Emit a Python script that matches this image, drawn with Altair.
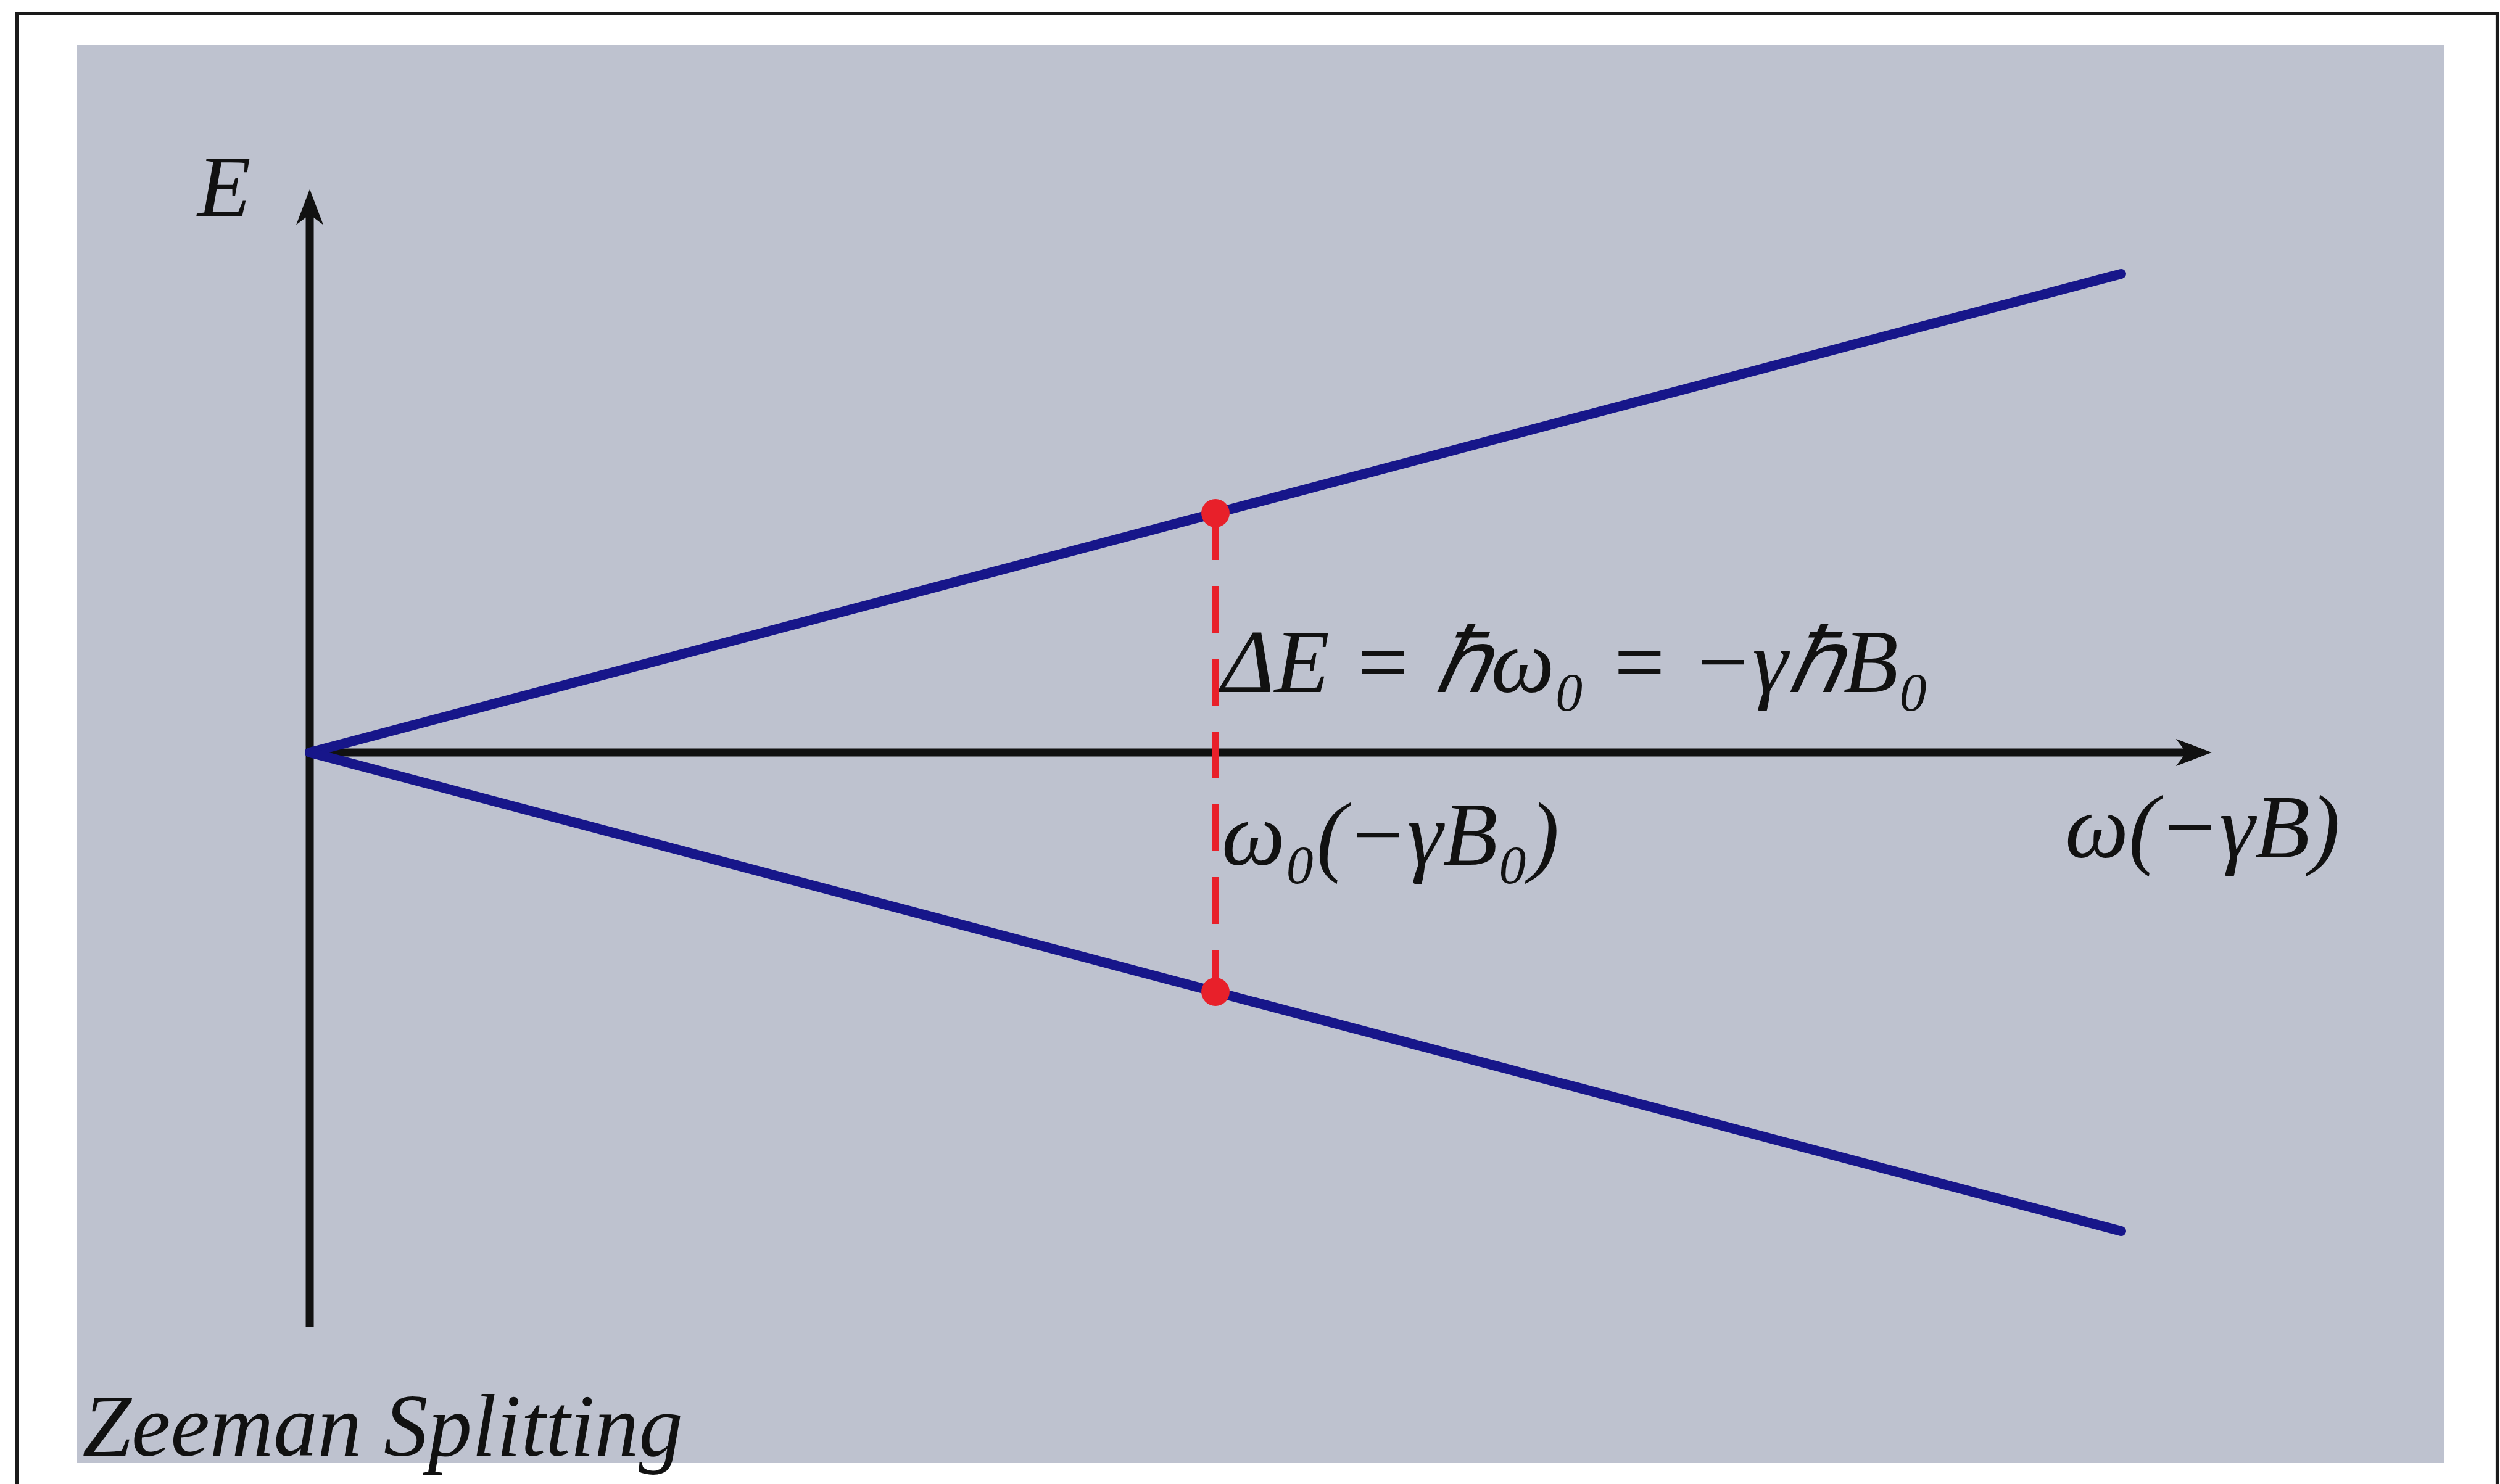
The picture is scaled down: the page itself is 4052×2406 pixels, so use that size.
import altair as alt
import pandas as pd

# Zeeman splitting of a spin-1/2 level: E = ±ħω/2 with ω = −γB
# (ω in units of ω0, E in units of ħω0)
LEVEL_OMEGA = [0.0, 2.0]
LEVEL_UPPER = [0.0, 1.0]
LEVEL_LOWER = [0.0, -1.0]

# Resonance at ω0: the two levels are ΔE = ħω0 apart
RES_OMEGA = [1.0, 1.0]
RES_ENERGY = [0.5, -0.5]

# Axis arrows: line extents and arrow tips
X_AXIS_LINE = [0.0, 2.075]
Y_AXIS_LINE = [-1.20, 1.145]
ARROW_X = [2.10, 0.0]
ARROW_Y = [0.0, 1.177]
ARROW_ANGLE = [90, 0]

# Backing panel and page frame (same data units as the plot)
PANEL_X = [-0.257, 2.357]
PANEL_Y = [1.478, -1.4845]
FRAME_X = [-0.323, 2.4155]
FRAME_Y = [1.5438, -1.70]

SERIF = "'Liberation Serif', serif"

# Annotations: text, ω, E, size, x-offset
LABELS = [
    ("E", -0.124, 1.121, 142, 0),
    ("ΔE = ℏω₀ = −γℏB₀", 1.0, 0.126, 146, 10),
    ("ω₀(−γB₀)", 1.0, -0.235, 146, 10),
    ("ω(−γB)", 1.938, -0.219, 146, 0),
    ("Zeeman Splitting", -0.251, -1.469, 143, 0),
]

X_DOMAIN = [-0.342, 2.4183]
Y_DOMAIN = [-1.5284, 1.5722]

xs = alt.Scale(domain=X_DOMAIN, nice=False, zero=False)
ys = alt.Scale(domain=Y_DOMAIN, nice=False, zero=False)

BLUE = "#17168a"
RED = "#e8202a"
INK = "#111111"

panel = alt.Chart(pd.DataFrame({
    "x": [PANEL_X[0]], "x2": [PANEL_X[1]], "y": [PANEL_Y[0]], "y2": [PANEL_Y[1]]
})).mark_rect(fill="#bec2cf").encode(
    x=alt.X("x:Q", scale=xs, axis=None),
    x2="x2:Q",
    y=alt.Y("y:Q", scale=ys, axis=None),
    y2="y2:Q",
)

frame = alt.Chart(pd.DataFrame({
    "x": [FRAME_X[0]], "x2": [FRAME_X[1]], "y": [FRAME_Y[0]], "y2": [FRAME_Y[1]]
})).mark_rect(fill="transparent", stroke="#1a1a1a", strokeWidth=6).encode(
    x=alt.X("x:Q", scale=xs, axis=None),
    x2="x2:Q",
    y=alt.Y("y:Q", scale=ys, axis=None),
    y2="y2:Q",
)

x_axis = alt.Chart(pd.DataFrame({
    "x": [X_AXIS_LINE[0]], "x2": [X_AXIS_LINE[1]], "y": [0.0]
})).mark_rule(color=INK, strokeWidth=13, strokeCap="butt").encode(
    x=alt.X("x:Q", scale=xs, axis=None),
    x2="x2:Q",
    y=alt.Y("y:Q", scale=ys, axis=None),
)

y_axis = alt.Chart(pd.DataFrame({
    "y": [Y_AXIS_LINE[0]], "y2": [Y_AXIS_LINE[1]], "x": [0.0]
})).mark_rule(color=INK, strokeWidth=13, strokeCap="butt").encode(
    x=alt.X("x:Q", scale=xs, axis=None),
    y=alt.Y("y:Q", scale=ys, axis=None),
    y2="y2:Q",
)

arrows = alt.Chart(pd.DataFrame({
    "x": ARROW_X, "y": ARROW_Y, "angle": ARROW_ANGLE
})).mark_point(
    shape="M0,0 L0.72,1.9 L0,1.35 L-0.72,1.9 Z",
    filled=True, fill=INK, color=INK, opacity=1, size=3721, strokeWidth=0,
).encode(
    x=alt.X("x:Q", scale=xs, axis=None),
    y=alt.Y("y:Q", scale=ys, axis=None),
    angle=alt.Angle("angle:Q", scale=None),
)

levels_df = pd.DataFrame({
    "omega": LEVEL_OMEGA * 2,
    "E": LEVEL_UPPER + LEVEL_LOWER,
    "level": ["up"] * len(LEVEL_OMEGA) + ["down"] * len(LEVEL_OMEGA),
})
levels = alt.Chart(levels_df).mark_line(
    color=BLUE, strokeWidth=16, strokeCap="round"
).encode(
    x=alt.X("omega:Q", scale=xs, axis=None),
    y=alt.Y("E:Q", scale=ys, axis=None),
    detail="level:N",
)

res_df = pd.DataFrame({"omega": RES_OMEGA, "E": RES_ENERGY})
gap = alt.Chart(res_df).mark_line(
    color=RED, strokeWidth=11, strokeDash=[76, 42], strokeCap="butt"
).encode(
    x=alt.X("omega:Q", scale=xs, axis=None),
    y=alt.Y("E:Q", scale=ys, axis=None),
)
dots = alt.Chart(res_df).mark_circle(
    color=RED, size=2100, opacity=1
).encode(
    x=alt.X("omega:Q", scale=xs, axis=None),
    y=alt.Y("E:Q", scale=ys, axis=None),
)

texts = []
for text, wx, ey, fsize, dx in LABELS:
    texts.append(
        alt.Chart(pd.DataFrame({"t": [text], "x": [wx], "y": [ey]})).mark_text(
            align="left", baseline="alphabetic", font=SERIF, fontSize=fsize,
            fontStyle="italic", color=INK, dx=dx,
        ).encode(
            x=alt.X("x:Q", scale=xs, axis=None),
            y=alt.Y("y:Q", scale=ys, axis=None),
            text="t:N",
        )
    )

chart = alt.layer(
    panel, frame, x_axis, y_axis, arrows, levels, gap, dots, *texts
).properties(
    width=4052, height=2406, padding=0, background="white",
    autosize=alt.AutoSizeParams(type="none"),
).configure_view(strokeWidth=0)

chart.save("out.html", embed_options={"renderer": "svg", "actions": False})
